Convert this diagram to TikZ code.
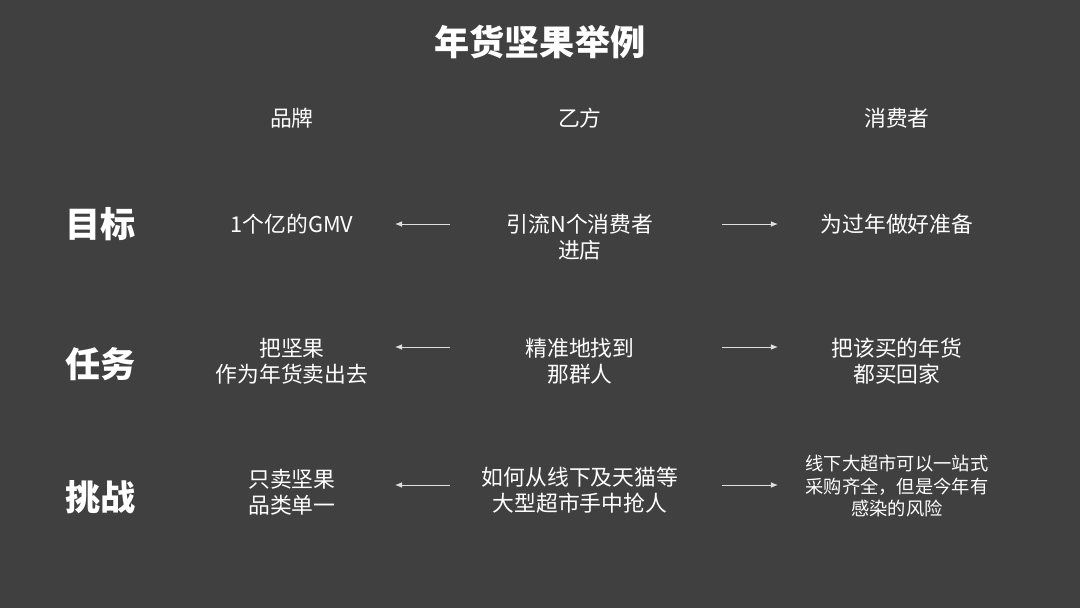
\documentclass[tikz,border=0pt]{standalone}
\usepackage{fontspec}
\setmainfont{Noto Sans CJK SC}
\newfontfamily\cjkbold[BoldFont={* Bold}]{Noto Sans CJK SC}
\usetikzlibrary{arrows.meta}
\definecolor{bgdark}{HTML}{404040}
\tikzset{
  cell/.style={text=white, font=\fontsize{6.2}{7.4}\selectfont, align=center},
  rowhead/.style={text=white, font=\fontsize{10}{12}\selectfont\bfseries},
  link/.style={draw=gray!25, line width=0.25pt, -{Latex[length=2pt,width=1.6pt]}}
}
\begin{document}
\begin{tikzpicture}[x=0.1mm, y=-0.1mm]
\fill[bgdark] (0,0) rectangle (1080,608);
\node[text=white, font=\fontsize{10}{12}\selectfont\bfseries] (title) at (540,42) {年货坚果举例};
% column heads
\node[cell] (hbrand) at (292,118) {品牌};
\node[cell] (hagency) at (580,118) {乙方};
\node[cell] (hbuyer) at (897,118) {消费者};
% row heads
\node[rowhead] (rgoal) at (101,224) {目标};
\node[rowhead] (rtask) at (101,364) {任务};
\node[rowhead] (rrisk) at (101,497) {挑战};
% row 1
\node[cell] (g1) at (292,224) {1个亿的GMV};
\node[cell] (g2) at (580,237) {引流N个消费者\\进店};
\node[cell] (g3) at (897,224) {为过年做好准备};
% row 2
\node[cell] (t1) at (292,361) {把坚果\\作为年货卖出去};
\node[cell] (t2) at (580,361) {精准地找到\\那群人};
\node[cell] (t3) at (897,361) {把该买的年货\\都买回家};
% row 3
\node[cell] (c1) at (292,492) {只卖坚果\\品类单一};
\node[cell] (c2) at (580,490) {如何从线下及天猫等\\大型超市手中抢人};
\node[cell, font=\fontsize{5.2}{6.4}\selectfont] (c3) at (897,486) {线下大超市可以一站式\\采购齐全，但是今年有\\感染的风险};
% arrows
\foreach \r/\y in {g/224, t/347, c/485} {
  \coordinate (\r L) at (450,\y);
  \coordinate (\r Lend) at (395,\y);
  \coordinate (\r R) at (722,\y);
  \coordinate (\r Rend) at (778,\y);
  \draw[link] (\r L) -- (\r Lend);
  \draw[link] (\r R) -- (\r Rend);
}
\end{tikzpicture}
\end{document}
